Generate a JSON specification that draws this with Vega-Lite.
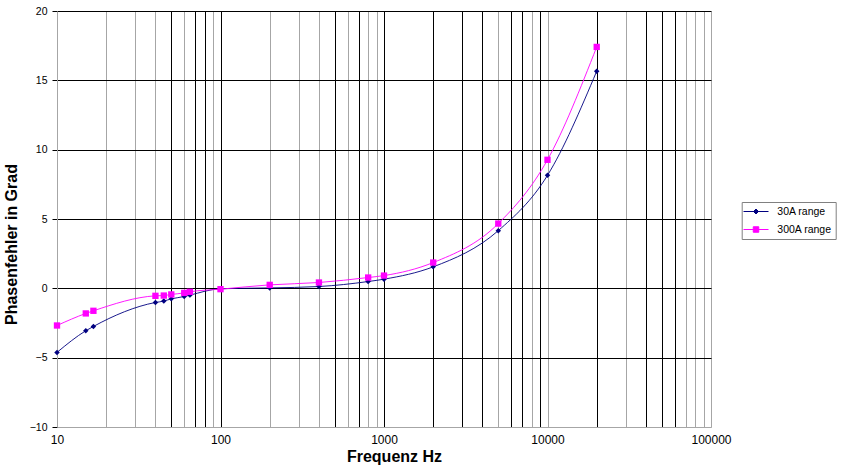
{
  "$schema": "https://vega.github.io/schema/vega-lite/v6.json",
  "width": 654,
  "height": 416,
  "autosize": "none",
  "padding": {"left": 57, "top": 11, "right": 131, "bottom": 45},
  "background": "white",
  "config": {"view": {"stroke": null}, "font": "Liberation Sans"},
  "data": {
    "values": [
      {"f": 10, "v": -4.62, "series": "30A range"},
      {"f": 15, "v": -3.06, "series": "30A range"},
      {"f": 16.7, "v": -2.75, "series": "30A range"},
      {"f": 40, "v": -1.02, "series": "30A range"},
      {"f": 45, "v": -0.92, "series": "30A range"},
      {"f": 50, "v": -0.76, "series": "30A range"},
      {"f": 60, "v": -0.59, "series": "30A range"},
      {"f": 65, "v": -0.49, "series": "30A range"},
      {"f": 100, "v": -0.03, "series": "30A range"},
      {"f": 200, "v": 0.03, "series": "30A range"},
      {"f": 400, "v": 0.13, "series": "30A range"},
      {"f": 800, "v": 0.49, "series": "30A range"},
      {"f": 1000, "v": 0.66, "series": "30A range"},
      {"f": 2000, "v": 1.55, "series": "30A range"},
      {"f": 5000, "v": 4.16, "series": "30A range"},
      {"f": 10000, "v": 8.15, "series": "30A range"},
      {"f": 20000, "v": 15.66, "series": "30A range"},
      {"f": 10, "v": -2.68, "series": "300A range"},
      {"f": 15, "v": -1.81, "series": "300A range"},
      {"f": 16.7, "v": -1.62, "series": "300A range"},
      {"f": 40, "v": -0.54, "series": "300A range"},
      {"f": 45, "v": -0.52, "series": "300A range"},
      {"f": 50, "v": -0.44, "series": "300A range"},
      {"f": 60, "v": -0.33, "series": "300A range"},
      {"f": 65, "v": -0.25, "series": "300A range"},
      {"f": 100, "v": -0.06, "series": "300A range"},
      {"f": 200, "v": 0.25, "series": "300A range"},
      {"f": 400, "v": 0.42, "series": "300A range"},
      {"f": 800, "v": 0.78, "series": "300A range"},
      {"f": 1000, "v": 0.92, "series": "300A range"},
      {"f": 2000, "v": 1.86, "series": "300A range"},
      {"f": 5000, "v": 4.67, "series": "300A range"},
      {"f": 10000, "v": 9.27, "series": "300A range"},
      {"f": 20000, "v": 17.41, "series": "300A range"}
    ]
  },
  "encoding": {
    "x": {
      "field": "f",
      "type": "quantitative",
      "scale": {"type": "log", "domain": [10, 100000]},
      "axis": {
        "values": [10, 20, 30, 40, 50, 60, 70, 80, 90, 100, 200, 300, 400, 500, 600, 700, 800, 900, 1000, 2000, 3000, 4000, 5000, 6000, 7000, 8000, 9000, 10000, 20000, 30000, 40000, 50000, 60000, 70000, 80000, 90000, 100000],
        "labelExpr": "indexof([10, 100, 1000, 10000, 100000], datum.value) >= 0 ? format(datum.value, 'd') : ''",
        "grid": true,
        "gridColor": {"condition": {"test": "indexof([50, 70, 80, 100, 500, 700, 1000, 2000, 3000, 4000, 6000, 7000, 9000, 20000, 40000, 50000, 60000], datum.value) >= 0", "value": "#000000"}, "value": "#a6a6a6"},
        "gridWidth": 1,
        "ticks": false,
        "tickSize": 0,
        "domainColor": "#a6a6a6",
        "labelFontSize": 12,
        "labelColor": "#000000",
        "labelPadding": 7,
        "labelFlush": false,
        "labelOverlap": false,
        "title": "Frequenz Hz",
        "titleFontSize": 16,
        "titleFontWeight": "bold",
        "titleColor": "#000000",
        "titlePadding": 3,
        "titleX": 337
      }
    },
    "y": {
      "field": "v",
      "type": "quantitative",
      "scale": {"domain": [-10, 20]},
      "axis": {
        "values": [-10, -5, 0, 5, 10, 15, 20],
        "grid": true,
        "gridColor": {"condition": {"test": "datum.value == -10", "value": "#a6a6a6"}, "value": "#000000"},
        "gridWidth": 1,
        "domainColor": "#a6a6a6",
        "tickColor": "#000000",
        "tickSize": 5,
        "labelFontSize": 10.5,
        "labelColor": "#000000",
        "labelPadding": 5,
        "title": "Phasenfehler in Grad",
        "titleFontSize": 16,
        "titleFontWeight": "bold",
        "titleColor": "#000000",
        "titlePadding": 10,
        "titleY": 233
      }
    }
  },
  "layer": [
    {
      "mark": {"type": "line", "interpolate": "monotone", "strokeWidth": 0.9},
      "encoding": {
        "color": {"field": "series", "type": "nominal", "sort": ["30A range", "300A range"], "scale": {"range": ["#000080", "#FF00FF"]}, "legend": null},
        "detail": {"field": "series"}
      }
    },
    {
      "transform": [{"filter": "datum.series == '30A range'"}],
      "mark": {"type": "point", "shape": "diamond", "filled": true, "size": 30, "color": "#000080", "opacity": 1}
    },
    {
      "transform": [{"filter": "datum.series == '300A range'"}],
      "mark": {"type": "point", "shape": "square", "filled": true, "size": 40, "color": "#FF00FF", "opacity": 1}
    },
    {
      "mark": {"type": "point", "filled": true, "strokeWidth": 1, "opacity": 0},
      "encoding": {
        "fill": {"field": "series", "type": "nominal", "scale": {"domain": ["30A range", "300A range"], "range": ["#000080", "#FF00FF"]},
          "legend": {"title": null, "orient": "none", "legendX": 684.7, "legendY": 191, "strokeColor": "#808080", "fillColor": "#ffffff", "padding": 4, "symbolSize": 100, "symbolOpacity": 1, "symbolStrokeWidth": 1, "symbolOffset": 4.8, "labelOffset": 15.8, "labelFontSize": 10.5, "labelColor": "#000000", "rowPadding": 7}},
        "stroke": {"field": "series", "type": "nominal", "scale": {"domain": ["30A range", "300A range"], "range": ["#000080", "#FF00FF"]},
          "legend": {"title": null, "orient": "none", "legendX": 684.7, "legendY": 191, "strokeColor": "#808080", "fillColor": "#ffffff", "padding": 4, "symbolSize": 100, "symbolOpacity": 1, "symbolStrokeWidth": 1, "symbolOffset": 4.8, "labelOffset": 15.8, "labelFontSize": 10.5, "labelColor": "#000000", "rowPadding": 7}},
        "shape": {"field": "series", "type": "nominal", "scale": {"domain": ["30A range", "300A range"], "range": ["M-2.5,0H2.5M0,-0.5L0.5,0L0,0.5L-0.5,0Z", "M-2.5,0H2.5M-0.55,-0.55H0.55V0.55H-0.55Z"]},
          "legend": {"title": null, "orient": "none", "legendX": 684.7, "legendY": 191, "strokeColor": "#808080", "fillColor": "#ffffff", "padding": 4, "symbolSize": 100, "symbolOpacity": 1, "symbolStrokeWidth": 1, "symbolOffset": 4.8, "labelOffset": 15.8, "labelFontSize": 10.5, "labelColor": "#000000", "rowPadding": 7}}
      }
    }
  ]
}
